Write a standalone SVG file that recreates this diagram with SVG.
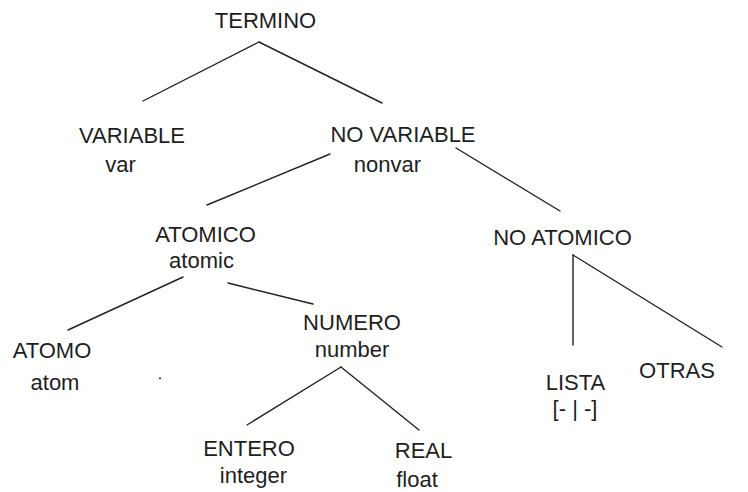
<svg xmlns="http://www.w3.org/2000/svg" width="748" height="492" viewBox="0 0 748 492">
<style>
text{font-family:"Liberation Sans",Arial,sans-serif;font-size:22px;fill:#1e1e1e;text-anchor:middle}
.c line{stroke:#222;stroke-width:1.4;stroke-linecap:round}
</style>
<rect width="748" height="492" fill="#fff"/>
<g class="c" id="connectors">
<line x1="259" y1="42" x2="143" y2="101"/>
<line x1="259" y1="42" x2="382" y2="103"/>
<line x1="330" y1="154" x2="207" y2="205"/>
<line x1="456" y1="148" x2="560" y2="211"/>
<line x1="183" y1="277" x2="68" y2="330"/>
<line x1="228" y1="283" x2="313" y2="304"/>
<line x1="341" y1="367" x2="247" y2="425"/>
<line x1="341" y1="367" x2="419" y2="430"/>
<line x1="573" y1="255" x2="573" y2="345"/>
<line x1="573" y1="255" x2="722" y2="347"/>
</g>
<g id="termino"><text x="265.5" y="28">TERMINO</text></g>
<g id="variable"><text x="132" y="143">VARIABLE</text><text x="120.5" y="172">var</text></g>
<g id="novariable"><text x="403" y="142">NO VARIABLE</text><text x="387.5" y="172">nonvar</text></g>
<g id="atomico"><text x="205.5" y="242">ATOMICO</text><text x="201.5" y="268">atomic</text></g>
<g id="noatomico"><text x="562.5" y="245">NO ATOMICO</text></g>
<g id="atomo"><text x="52" y="358">ATOMO</text><text x="55" y="390">atom</text></g>
<g id="numero"><text x="352" y="330">NUMERO</text><text x="352" y="357">number</text></g>
<g id="entero"><text x="249" y="456">ENTERO</text><text x="253.5" y="483">integer</text></g>
<g id="real"><text x="423.5" y="458">REAL</text><text x="417" y="487">float</text></g>
<g id="lista"><text x="575.5" y="390">LISTA</text><text x="575" y="416">[- | -]</text></g>
<g id="otras"><text x="677" y="378">OTRAS</text></g>
<rect x="159" y="377.5" width="2" height="1.5" fill="#333"/>
</svg>
